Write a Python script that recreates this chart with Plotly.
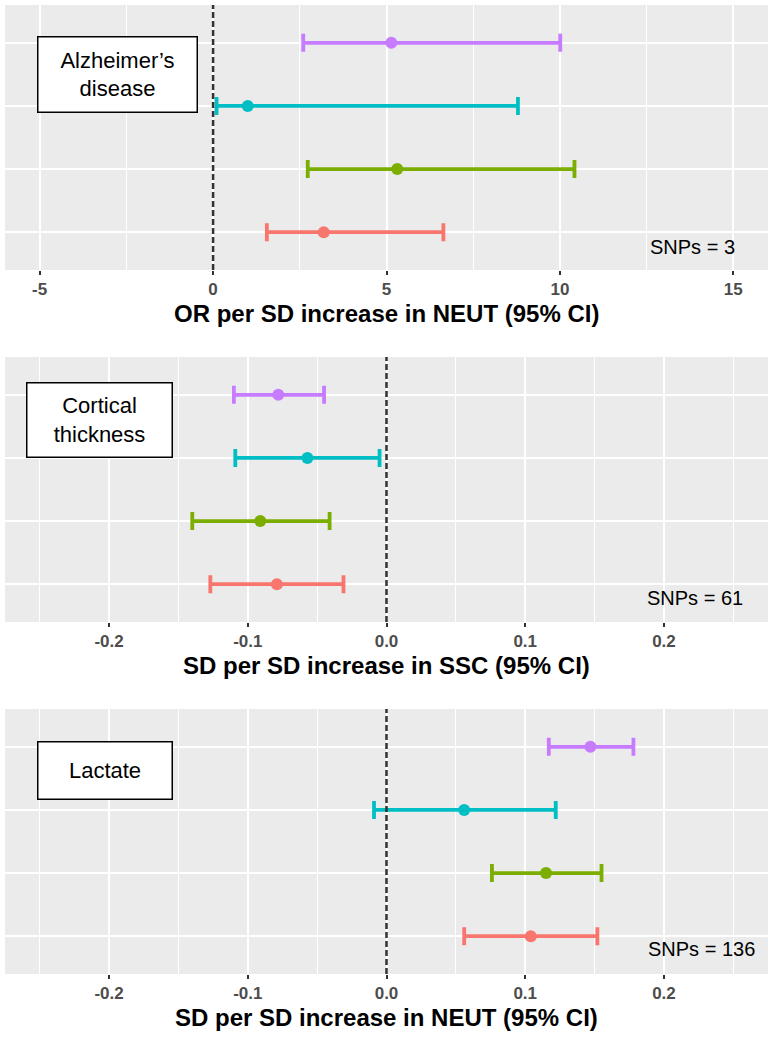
import plotly.graph_objects as go

# ---------------- data ----------------
groups = ["red", "green", "teal", "purple"]          # bottom -> top rows
colors = ["#F8766D", "#7CAE00", "#00BFC4", "#C77CFF"]
rows = [1, 2, 3, 4]

panel_titles = ["Alzheimer\u2019s<br>disease", "Cortical<br>thickness", "Lactate"]
axis_titles = ["OR per SD increase in NEUT (95% CI)",
               "SD per SD increase in SSC (95% CI)",
               "SD per SD increase in NEUT (95% CI)"]
snp_labels = ["SNPs = 3", "SNPs = 61", "SNPs = 136"]

# Alzheimer's disease
ad_est = [3.19, 5.31, 1.00, 5.14]
ad_lo = [1.55, 2.73, 0.10, 2.60]
ad_hi = [6.64, 10.42, 8.79, 10.01]
# Cortical thickness
ct_est = [-0.079, -0.091, -0.057, -0.078]
ct_lo = [-0.127, -0.140, -0.109, -0.110]
ct_hi = [-0.031, -0.041, -0.005, -0.045]
# Lactate
la_est = [0.104, 0.115, 0.056, 0.147]
la_lo = [0.056, 0.076, -0.009, 0.117]
la_hi = [0.152, 0.155, 0.122, 0.178]

est = [ad_est, ct_est, la_est]
lo = [ad_lo, ct_lo, la_lo]
hi = [ad_hi, ct_hi, la_hi]

x_ranges = [[-6, 16], [-0.275, 0.275], [-0.275, 0.275]]
x_major = [[-5, 0, 5, 10, 15], [-0.2, -0.1, 0.0, 0.1, 0.2], [-0.2, -0.1, 0.0, 0.1, 0.2]]
x_ticktext = [["-5", "0", "5", "10", "15"],
              ["-0.2", "-0.1", "0.0", "0.1", "0.2"],
              ["-0.2", "-0.1", "0.0", "0.1", "0.2"]]
x_minor_dtick = [5, 0.1, 0.1]
x_minor_tick0 = [2.5, 0.05, 0.05]
null_value = 0

# label positions (data coords)
box_pos = [(-2.76, 3.5), (-0.207, 3.6), (-0.203, 3.62)]
box_size = [(158, 74), (144, 73), (133, 56)]
snp_pos = [(15.1, 0.76), (0.2584, 0.78), (0.267, 0.79)]

# ---------------- layout geometry (pixels) ----------------
W, H = 772, 1040
plot_left, plot_right = 5, 768
panel_tops = [5, 357, 709]
panel_h = 265

FONT = "Liberation Sans, Arial, sans-serif"

fig = go.Figure()
layout = dict(width=W, height=H, margin=dict(l=0, r=0, t=0, b=0),
              paper_bgcolor="white", plot_bgcolor="#EBEBEB",
              showlegend=False, font=dict(family=FONT))
annotations = []
shapes = []

for p in range(3):
    ax = "" if p == 0 else str(p + 1)
    xref = "x" + ax
    yref = "y" + ax
    top = panel_tops[p]
    bottom = top + panel_h
    ydom = [1 - bottom / H, 1 - top / H]
    xdom = [plot_left / W, plot_right / W]

    for i in range(4):
        fig.add_trace(go.Scatter(
            x=[est[p][i]], y=[rows[i]], mode="markers",
            marker=dict(color=colors[i], size=12),
            error_x=dict(type="data", symmetric=False,
                         array=[hi[p][i] - est[p][i]],
                         arrayminus=[est[p][i] - lo[p][i]],
                         color=colors[i], thickness=3.8, width=9),
            xaxis=xref, yaxis=yref, hoverinfo="skip"))

    layout["xaxis" + ax] = dict(
        domain=xdom, anchor=yref, range=x_ranges[p],
        tickvals=x_major[p], ticktext=["<b>%s</b>" % t for t in x_ticktext[p]],
        tickfont=dict(size=17, color="#4D4D4D", family=FONT),
        ticks="outside", ticklen=4, tickwidth=1.6, tickcolor="#333333",
        showgrid=True, gridcolor="white", gridwidth=2,
        minor=dict(dtick=x_minor_dtick[p], tick0=x_minor_tick0[p],
                   showgrid=True, gridcolor="white", gridwidth=1, ticks=""),
        zeroline=False, showline=False, fixedrange=True)
    layout["yaxis" + ax] = dict(
        domain=ydom, anchor=xref, range=[0.4, 4.6],
        tickvals=rows, showticklabels=False, ticks="",
        showgrid=True, gridcolor="white", gridwidth=2,
        zeroline=False, showline=False, fixedrange=True)

    # dashed reference line at null value
    shapes.append(dict(type="line", xref=xref, yref=yref + " domain",
                       x0=null_value, x1=null_value, y0=0, y1=1,
                       line=dict(color="#333333", width=2.5, dash="6px,3px"),
                       layer="above"))

    # axis title
    annotations.append(dict(text="<b>%s</b>" % axis_titles[p],
                            xref="paper", yref="paper",
                            x=(plot_left + plot_right) / 2 / W,
                            y=1 - (bottom + 43) / H,
                            xanchor="center", yanchor="middle", showarrow=False,
                            font=dict(size=24, color="black", family=FONT)))
    # boxed label
    bx, by = box_pos[p]
    bw, bh = box_size[p]
    annotations.append(dict(text=panel_titles[p], xref=xref, yref=yref,
                            x=bx, y=by, xanchor="center", yanchor="middle",
                            showarrow=False, width=bw, height=bh,
                            bgcolor="white", bordercolor="black",
                            borderwidth=1.5, borderpad=0,
                            font=dict(size=22, color="black", family=FONT)))
    # SNP count
    sx, sy = snp_pos[p]
    annotations.append(dict(text=snp_labels[p], xref=xref, yref=yref,
                            x=sx, y=sy, xanchor="right", yanchor="middle",
                            showarrow=False,
                            font=dict(size=20, color="black", family=FONT)))

layout["annotations"] = annotations
layout["shapes"] = shapes
fig.update_layout(**layout)
fig.write_html("out.html")
